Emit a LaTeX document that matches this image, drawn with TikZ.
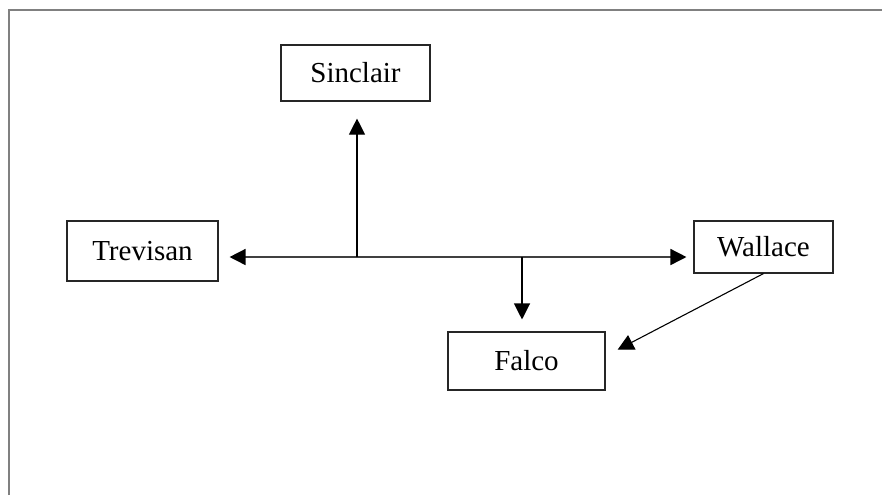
\documentclass[tikz,border=0pt]{standalone}
\usepackage{fontspec}
\setmainfont{Liberation Serif}
\usetikzlibrary{arrows.meta}
\begin{document}
\begin{tikzpicture}[x=0.5pt,y=-0.5pt,
  box/.style={draw=black!85,line width=0.55pt,inner sep=0pt,font=\fontsize{14.5}{17}\selectfont},
  tipshape/.style={Triangle[length=8pt,width=8pt,color=black]},
  conn/.style={draw=black,line width=0.55pt,-{Triangle[length=8pt,width=8pt]}},
  frameline/.style={draw=black!50,line width=1pt}]
\useasboundingbox (0,0) rectangle (882,495);
\draw[frameline] (8.5,495) -- (8.5,9.5) -- (882,9.5);
\node[box,minimum width=74.5pt,minimum height=28pt] (sinclair) at (355.5,73) {Sinclair};
\node[box,minimum width=75.5pt,minimum height=30pt] (trevisan) at (142.5,251) {Trevisan};
\node[box,minimum width=69.5pt,minimum height=26pt] (wallace) at (763.5,247) {Wallace};
\node[box,minimum width=78.5pt,minimum height=29pt] (falco) at (526.5,361) {Falco};
\coordinate (h) at (357,257);
\coordinate (d) at (522,257);
\draw[draw=black!75,line width=0.75pt,{Triangle[length=8pt,width=8pt,color=black]}-{Triangle[length=8pt,width=8pt,color=black]},shorten <=5.5pt,shorten >=3.5pt] (trevisan.east |- h) -- (wallace.west |- h);
\draw[conn,shorten >=8.5pt] (h) -- (sinclair.south -| h);
\draw[conn,shorten >=6pt] (d) -- (falco.north -| d);
\draw[conn,shorten >=6.8pt] (wallace.south) -- ([yshift=2.5pt]falco.east);
\end{tikzpicture}
\end{document}
